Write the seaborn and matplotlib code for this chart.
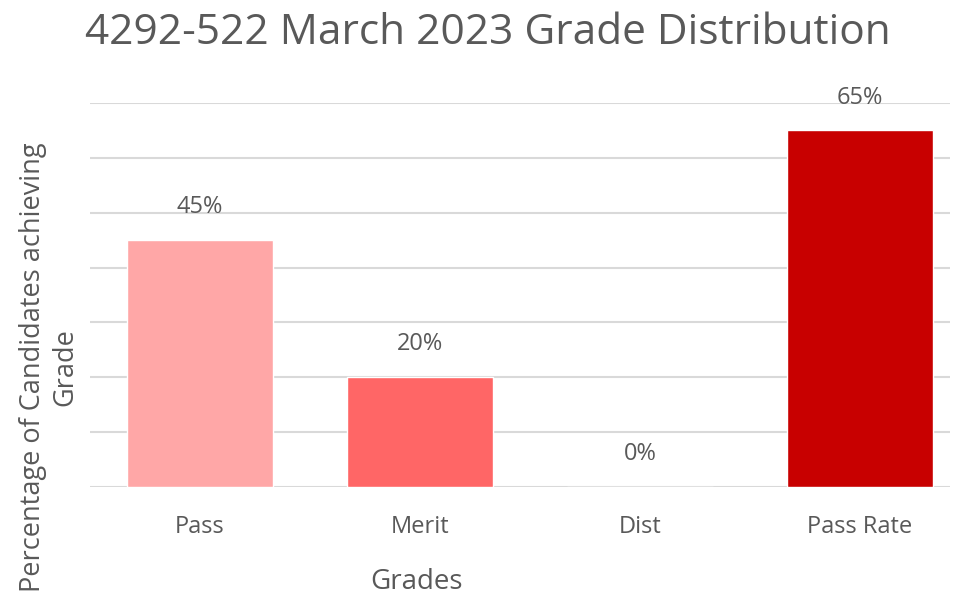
import matplotlib
matplotlib.use("Agg")
import matplotlib.pyplot as plt
import seaborn as sns
import pandas as pd

# chart data
grades = ["Pass", "Merit", "Dist", "Pass Rate"]
percentages = [45, 20, 0, 65]
bar_colors = ["#FFA7A7", "#FF6666", "#FF3333", "#C80000"]

title = "4292-522 March 2023 Grade Distribution"
x_label = "Grades"
y_label = "Percentage of Candidates achieving\nGrade"

text_grey = "#595959"
grid_grey = "#D9D9D9"

sns.set_theme(style="white")
plt.rcParams["font.family"] = ["Open Sans", "DejaVu Sans"]

df = pd.DataFrame({"grade": grades, "pct": percentages})

fig = plt.figure(figsize=(9.62, 6.05), dpi=100)
ax = fig.add_axes([90 / 962, 118 / 605, 860 / 962, 384 / 605])

sns.barplot(data=df, x="grade", y="pct", hue="grade", palette=bar_colors,
            width=0.66, legend=False, ax=ax, zorder=3, saturation=1)

ax.set_ylim(0, 70)
ax.set_xlim(-0.5, -0.5 + 860 / 220)
ax.set_yticks(range(0, 71, 10))
ax.set_yticklabels([])
ax.yaxis.grid(True, color=grid_grey, linewidth=1.5, zorder=0)
ax.tick_params(axis="both", length=0)
ax.tick_params(axis="x", labelsize=17, labelcolor=text_grey, pad=20)
for s in ["top", "right", "left", "bottom"]:
    ax.spines[s].set_visible(False)

for cont in ax.containers:
    ax.bar_label(cont, labels=[f"{v:.0f}%" for v in cont.datavalues],
                 padding=15, fontsize=17, color=text_grey)

ax.set_xlabel("")
ax.set_ylabel("")
fig.text(416 / 962, 1 - 582 / 605, x_label, ha="center", va="center",
         fontsize=20, color=text_grey)
fig.text(49 / 962, 1 - 367 / 605, y_label, ha="center", va="center",
         rotation=90, multialignment="center", fontsize=19.5,
         color=text_grey, linespacing=1.2)
fig.text(488 / 962, 1 - 33 / 605, title, ha="center", va="center",
         fontsize=30.5, color=text_grey)

fig.savefig("out.png", dpi=100)
